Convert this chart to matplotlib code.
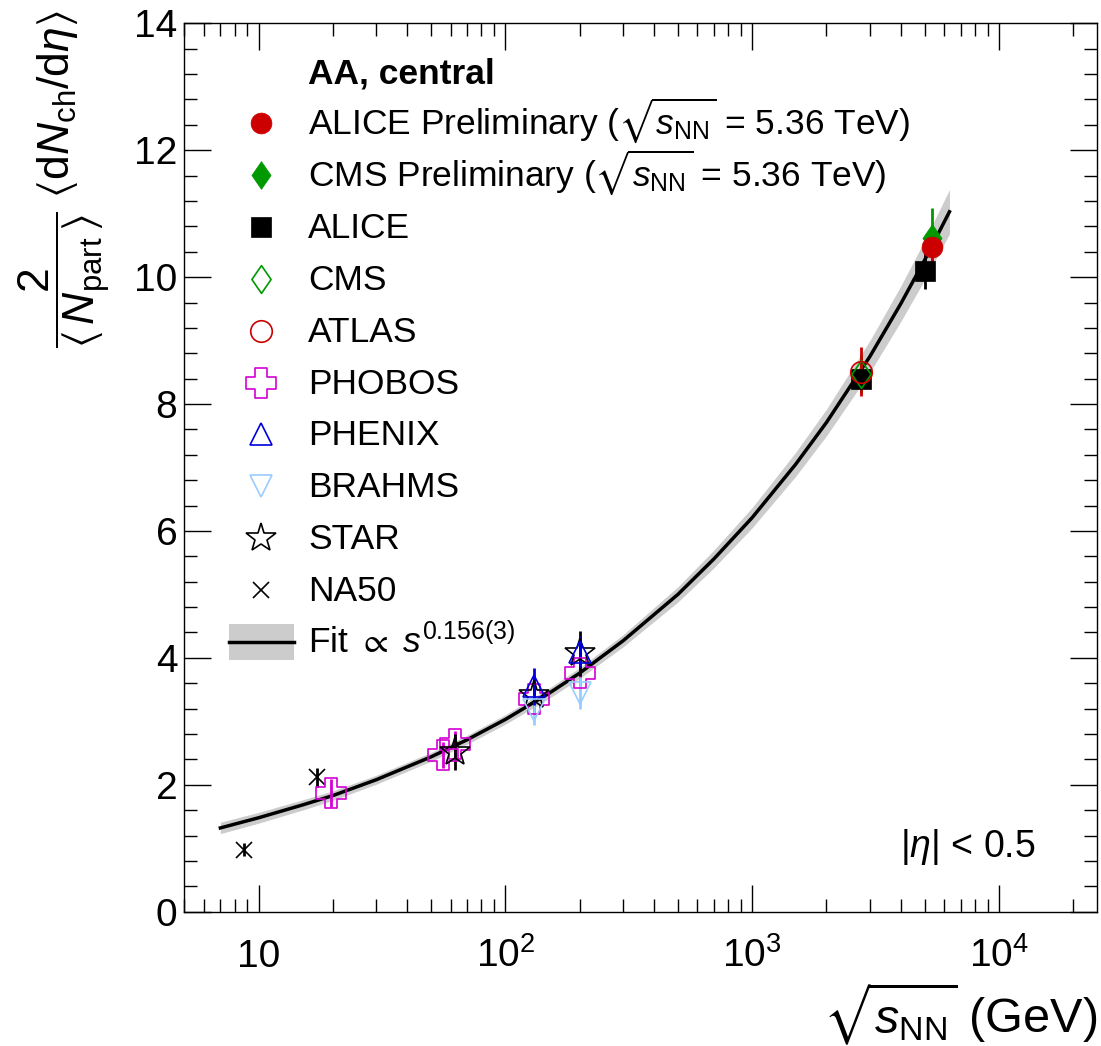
import numpy as np
import matplotlib.pyplot as plt
import matplotlib.transforms as mtransforms
from matplotlib.path import Path
from matplotlib.patches import Rectangle
from matplotlib.ticker import MultipleLocator, LogLocator, NullFormatter

plt.rcParams['font.family'] = ['Liberation Sans', 'DejaVu Sans']
plt.rcParams['mathtext.fontset'] = 'custom'
plt.rcParams['mathtext.rm'] = 'Liberation Sans'
plt.rcParams['mathtext.it'] = 'Liberation Sans:italic'
plt.rcParams['mathtext.bf'] = 'Liberation Sans:bold'
plt.rcParams['mathtext.sf'] = 'Liberation Sans'
plt.rcParams['mathtext.fallback'] = 'stixsans'

# ---- data ----
# sqrt(s_NN) in GeV, 2/<Npart> <dNch/deta>, vertical error
na50_x = [8.7, 17.3]
na50_y = [0.98, 2.12]
na50_e = [0.10, 0.15]

phobos_x = [19.6, 56.0, 62.4, 130.0, 200.0]
phobos_y = [1.87, 2.47, 2.64, 3.35, 3.76]
phobos_e = [0.22, 0.20, 0.20, 0.20, 0.20]

star_x = [62.4, 130.0, 200.0]
star_y = [2.52, 3.41, 4.07]
star_e = [0.28, 0.30, 0.35]

brahms_x = [130.0, 200.0]
brahms_y = [3.18, 3.45]
brahms_e = [0.24, 0.25]

phenix_x = [130.0, 200.0]
phenix_y = [3.55, 4.10]
phenix_e = [0.29, 0.25]

alice_x = [2760.0, 5020.0]
alice_y = [8.39, 10.10]
alice_e = [0.20, 0.28]

cms_x = [2760.0]
cms_y = [8.48]
cms_e = [0.30]

atlas_x = [2760.0]
atlas_y = [8.51]
atlas_e = [0.39]

cms_pre_x = [5360.0]
cms_pre_y = [10.62]
cms_pre_e = [0.47]

alice_pre_x = [5360.0]
alice_pre_y = [10.48]
alice_pre_e = [0.30]

# fit curve and its band
fit_x = [7, 10, 15, 20, 30, 50, 70, 100, 150, 200, 300, 500, 700, 1000,
         1500, 2000, 3000, 4000, 5000, 6300]
fit_y = [1.32, 1.48, 1.68, 1.83, 2.08, 2.44, 2.71, 3.03, 3.44, 3.76, 4.27,
         5.00, 5.56, 6.21, 7.05, 7.71, 8.75, 9.58, 10.27, 11.03]
fit_e = [0.09, 0.085, 0.08, 0.075, 0.07, 0.07, 0.07, 0.075, 0.08, 0.085, 0.095,
         0.12, 0.14, 0.16, 0.19, 0.21, 0.25, 0.28, 0.31, 0.35]

xtick_vals = [10, 100, 1000, 10000]
xtick_text = ['10', r'$\mathregular{10^{2}}$', r'$\mathregular{10^{3}}$',
              r'$\mathregular{10^{4}}$']

RED = '#cc0000'
GREEN = '#009900'
MAGENTA = '#d400d4'
BLUE = '#0000dd'
LBLUE = '#99ccff'


def diamond(a):
    return Path([(0, 1), (a, 0), (0, -1), (-a, 0), (0, 1)],
                [Path.MOVETO, Path.LINETO, Path.LINETO, Path.LINETO, Path.CLOSEPOLY])


def open_cross(a):
    v = [(-a, -1), (a, -1), (a, -a), (1, -a), (1, a), (a, a), (a, 1), (-a, 1),
         (-a, a), (-1, a), (-1, -a), (-a, -a), (-a, -1)]
    codes = [Path.MOVETO] + [Path.LINETO] * 11 + [Path.CLOSEPOLY]
    return Path(v, codes)


DIAM = diamond(0.69)
CROSS = open_cross(0.40)

# name, x, y, err, marker, ms, mfc, mec, ecolor
series = [
    ('NA50', na50_x, na50_y, na50_e, 'x', 11.5, 'k', 'k', 'k'),
    ('PHOBOS', phobos_x, phobos_y, phobos_e, CROSS, 21, 'none', MAGENTA, MAGENTA),
    ('STAR', star_x, star_y, star_e, '*', 22, 'none', 'k', 'k'),
    ('BRAHMS', brahms_x, brahms_y, brahms_e, 'v', 16, 'none', LBLUE, LBLUE),
    ('PHENIX', phenix_x, phenix_y, phenix_e, '^', 16, 'none', BLUE, BLUE),
    ('ALICE', alice_x, alice_y, alice_e, 's', 15, 'k', 'k', 'k'),
    ('CMS', cms_x, cms_y, cms_e, DIAM, 20, 'none', GREEN, GREEN),
    ('ATLAS', atlas_x, atlas_y, atlas_e, 'o', 15.5, 'none', RED, RED),
    ('CMS Preliminary', cms_pre_x, cms_pre_y, cms_pre_e, DIAM, 20, GREEN, GREEN, GREEN),
    ('ALICE Preliminary', alice_pre_x, alice_pre_y, alice_pre_e, 'o', 15, RED, RED, RED),
]

fig = plt.figure(figsize=(11.01, 10.46), dpi=100)
ax = fig.add_axes([0.16739, 0.12840, 0.82915, 0.84933])
ax.set_xscale('log')
ax.set_xlim(5, 25000)
ax.set_ylim(0, 14)

fx = np.array(fit_x, float)
fy = np.array(fit_y)
fe = np.array(fit_e)
ax.fill_between(fx, fy - fe, fy + fe, color='#cccccc', lw=0, zorder=1)
ax.plot(fx, fy, color='k', lw=2.5, zorder=2)

for name, x, y, e, m, ms, mfc, mec, ec in series:
    ax.errorbar(x, y, yerr=e, fmt='none', ecolor=ec, elinewidth=2, capsize=0, zorder=3)
    ax.plot(x, y, linestyle='none', marker=m, ms=ms, mfc=mfc, mec=mec,
            mew=1.2 if mfc == 'none' or m == 'x' else 0.5, zorder=4)

# axes styling (ROOT like)
for s in ax.spines.values():
    s.set_linewidth(1.0)
ax.yaxis.set_major_locator(MultipleLocator(2))
ax.yaxis.set_minor_locator(MultipleLocator(0.4))
ax.xaxis.set_major_locator(LogLocator(base=10, numticks=10))
ax.xaxis.set_minor_locator(LogLocator(base=10, subs=np.arange(2, 10), numticks=20))
ax.xaxis.set_major_formatter(NullFormatter())
ax.xaxis.set_minor_formatter(NullFormatter())
ax.tick_params(which='both', direction='in', top=True, right=True, width=1.0)
ax.tick_params(which='major', length=19.5)
ax.tick_params(which='minor', length=9.5)
ax.tick_params(axis='y', labelsize=28, pad=5)

trans = mtransforms.blended_transform_factory(ax.transData, ax.transAxes)
for v, t in zip(xtick_vals, xtick_text):
    ax.text(v, -0.0626, t, transform=trans, ha='center', va='baseline', fontsize=28)

ax.set_xlabel(r'$\sqrt{s_{\mathrm{NN}}}$ (GeV)', fontsize=35, loc='right')
ax.xaxis.set_label_coords(1.0, -0.137)
ax.xaxis.label.set_va('baseline')

ax.set_ylabel(r'$\dfrac{2}{\langle\, N_{\mathrm{part}}\,\rangle}\;\langle \mathrm{d}N_{\mathrm{ch}}/\mathrm{d}\eta\rangle$',
              fontsize=32, loc='top')
ax.yaxis.set_label_coords(-0.079, 1.015)

# legend, drawn ROOT style
leg = [
    ('ALICE Preliminary ($\\sqrt{s_{\\mathrm{NN}}}$ = 5.36 TeV)', 'o', 15, RED, RED),
    ('CMS Preliminary ($\\sqrt{s_{\\mathrm{NN}}}$ = 5.36 TeV)', DIAM, 20, GREEN, GREEN),
    ('ALICE', 's', 15, 'k', 'k'),
    ('CMS', DIAM, 20, 'none', GREEN),
    ('ATLAS', 'o', 15.5, 'none', RED),
    ('PHOBOS', CROSS, 21, 'none', MAGENTA),
    ('PHENIX', '^', 16, 'none', BLUE),
    ('BRAHMS', 'v', 16, 'none', LBLUE),
    ('STAR', '*', 22, 'none', 'k'),
    ('NA50', 'x', 11.5, 'k', 'k'),
]
H = 888.4
mx, tx = 0.0840, 0.1358
row0, step = (911.7 - 123.3) / H, 51.85 / H
ax.text(tx, (911.7 - 83.3) / H, 'AA, central', transform=ax.transAxes,
        fontsize=25.5, fontweight='bold', va='baseline')
for i, (lab, m, ms, mfc, mec) in enumerate(leg):
    yy = row0 - i * step
    ax.plot([mx], [yy], transform=ax.transAxes, linestyle='none', marker=m, ms=ms,
            mfc=mfc, mec=mec, mew=1.2 if mfc == 'none' or m == 'x' else 0.5, clip_on=False)
    ax.text(tx, yy - 11 / H, lab, transform=ax.transAxes, fontsize=25.5, va='baseline')
yy = row0 - len(leg) * step
ax.add_patch(Rectangle((0.0493, yy - 18 / H), 0.0709, 36 / H, transform=ax.transAxes,
                       color='#cccccc', lw=0))
ax.plot([0.0493, 0.1202], [yy, yy], transform=ax.transAxes, color='k', lw=2.5)
ax.text(tx, yy - 11 / H, r'Fit $\propto$ $s^{\mathrm{0.156(3)}}$', transform=ax.transAxes,
        fontsize=25.5, va='baseline')

ax.text(0.932, 0.0617, r'$|\eta|$ < 0.5', transform=ax.transAxes, fontsize=27,
        ha='right', va='baseline')

fig.savefig('out.png', dpi=100)
